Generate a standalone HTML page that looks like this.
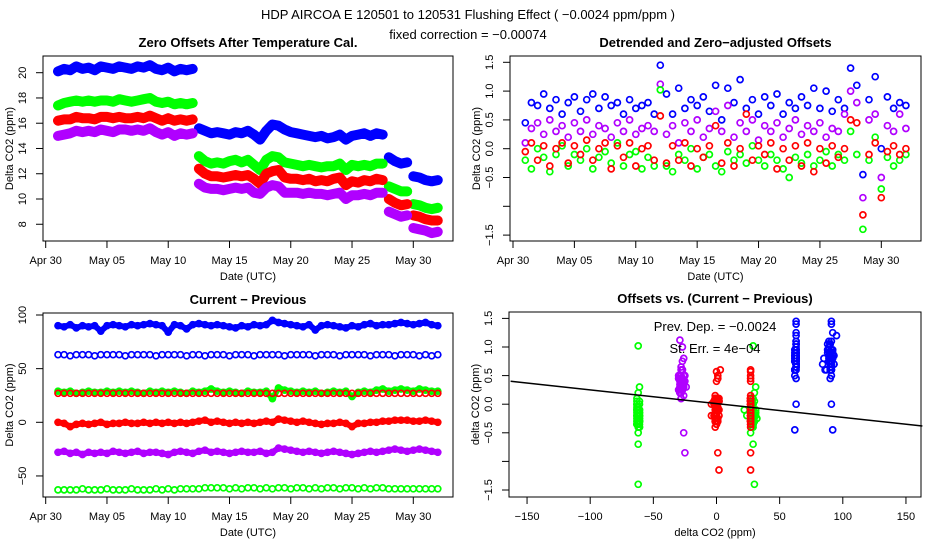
<!DOCTYPE html>
<html><head><meta charset="utf-8"><style>
html,body{margin:0;padding:0;background:#fff;}
svg{display:block;font-family:"Liberation Sans",Arial,sans-serif;}
.t{font-size:13px;fill:#000}
.tt{font-size:13px;font-weight:bold;fill:#000}
.ax{font-size:11px;fill:#000}
</style></head><body>
<svg id="chart" width="936" height="540" viewBox="0 0 936 540">
<rect width="936" height="540" fill="#fff"/>
<text class="t" x="468" y="19" text-anchor="middle">HDP   AIRCOA E   120501 to 120531   Flushing Effect ( −0.0024 ppm/ppm )</text>
<text class="t" x="468" y="39" text-anchor="middle">fixed correction = −0.00074</text>
</svg>
<script>
// time (days after Apr 30)
const times=[1,1.5,2,2.5,3,3.5,4,4.5,5,5.5,6,6.5,7,7.5,8,8.5,9,9.5,10,10.5,11,11.5,12,12.5,13,13.5,14,14.5,15,15.5,16,16.5,17,17.5,18,18.5,19,19.5,20,20.5,21,21.5,22,22.5,23,23.5,24,24.5,25,25.5,26,26.5,27,27.5,28,28.5,29,29.5,30,30.5,31,31.5,32];
const dateTickLabels=["Apr 30","May 05","May 10","May 15","May 20","May 25","May 30"];
const dateTickDays=[0,5,10,15,20,25,30];
// Panel 1: zero offsets
const zoBlue=[20.1,20.3,20.2,20.5,20.3,20.4,20.2,20.5,20.4,20.3,20.5,20.4,20.3,20.5,20.4,20.6,20.3,20.2,20.4,20.1,20.3,20.2,20.3,
15.6,15.4,15.2,15.3,15.2,15.1,15.3,15.2,15.4,15.1,14.7,15.4,15.9,15.8,15.5,15.3,15.2,15.1,15.0,14.9,15.0,14.8,14.9,15.1,14.7,15.0,15.1,15.2,15.0,15.2,15.1,
13.3,13.0,12.8,12.9,11.8,11.7,11.5,11.4,11.5];
const zoGreen=[17.4,17.6,17.7,17.8,17.7,17.8,17.7,17.8,17.8,17.7,17.9,17.8,17.7,17.8,17.9,18.0,17.7,17.6,17.7,17.5,17.6,17.5,17.6,
13.4,13.0,12.8,12.9,12.8,13.0,13.1,12.9,13.1,12.7,12.3,13.1,13.4,13.3,12.9,12.8,12.7,12.6,12.7,12.6,12.5,12.6,12.6,12.8,12.3,12.7,12.6,12.7,12.6,12.8,12.8,
11.0,10.8,10.6,10.6,9.6,9.5,9.3,9.2,9.3];
const zoRed=[16.2,16.3,16.3,16.5,16.4,16.4,16.3,16.5,16.5,16.4,16.5,16.4,16.4,16.5,16.4,16.6,16.4,16.2,16.4,16.2,16.3,16.2,16.3,
12.4,12.0,11.8,11.8,11.7,11.8,11.9,11.8,11.9,11.6,11.2,12.0,12.2,12.3,11.7,11.6,11.6,11.5,11.6,11.4,11.5,11.4,11.6,11.7,11.1,11.4,11.3,11.5,11.4,11.6,11.5,
10.0,9.7,9.5,9.6,8.7,8.6,8.4,8.3,8.3];
const zoPurple=[15.0,15.1,15.2,15.4,15.3,15.4,15.3,15.5,15.4,15.3,15.5,15.5,15.4,15.5,15.4,15.6,15.3,15.1,15.3,15.0,15.2,15.1,15.2,
11.2,10.9,10.8,10.8,10.7,10.8,10.9,10.8,10.9,10.5,10.4,10.9,11.1,11.0,10.5,10.5,10.5,10.4,10.5,10.4,10.4,10.3,10.4,10.5,10.0,10.3,10.3,10.4,10.3,10.5,10.5,
9.0,8.8,8.6,8.7,7.7,7.6,7.5,7.3,7.4];
const zoTicks=[8,10,12,14,16,18,20];
// Panel 2: detrended offsets
const dtBlue=[0.45,0.8,0.75,0.95,0.7,0.85,0.6,0.8,0.9,0.65,0.85,0.95,0.7,0.9,0.75,0.8,0.6,0.85,0.7,0.75,0.8,0.6,1.45,
0.95,0.6,1.05,0.7,0.85,0.75,0.9,0.65,1.1,0.5,1.05,0.8,1.2,0.7,0.85,0.6,0.9,0.75,0.95,0.6,0.8,0.7,0.9,0.75,1.05,0.7,1.0,0.65,0.85,0.7,1.4,
1.1,-0.45,0.85,1.25,0.0,0.9,0.7,0.8,0.75];
const dtPurple=[0.1,0.35,0.45,0.25,0.5,0.3,0.4,0.2,0.45,0.3,0.5,0.25,0.4,0.35,0.2,0.45,0.3,0.5,0.25,0.35,0.4,0.3,1.12,
0.25,0.4,0.1,0.45,0.3,0.5,0.2,0.35,0.65,0.3,0.75,0.2,0.45,0.3,0.5,0.15,0.4,0.3,0.45,0.2,0.35,0.5,0.25,0.4,0.3,0.45,0.2,0.35,0.3,0.6,1.0,
0.8,-0.85,0.5,0.6,-0.5,0.4,0.3,0.6,0.35];
const dtRed=[-0.05,0.1,-0.2,0.05,-0.3,0.0,0.1,-0.25,0.05,-0.1,0.15,-0.2,0.0,0.1,-0.35,0.05,-0.15,0.1,-0.3,0.0,0.05,-0.2,0.57,
-0.25,0.05,-0.2,0.1,-0.3,0.0,-0.15,0.05,0.4,-0.25,0.1,-0.3,0.0,0.6,-0.2,0.05,-0.1,0.1,-0.35,0.0,-0.2,0.05,-0.3,0.1,-0.4,0.0,-0.25,0.05,-0.15,0.0,0.5,
0.45,-1.15,-0.1,0.1,-0.85,-0.05,0.05,-0.1,0.0];
const dtGreen=[-0.2,-0.35,0.0,-0.15,-0.4,-0.1,0.05,-0.3,-0.1,-0.2,0.0,-0.35,-0.15,-0.05,-0.25,0.1,-0.3,-0.1,-0.05,-0.35,-0.15,-0.3,1.02,
-0.3,-0.4,-0.1,-0.2,0.0,-0.35,-0.15,-0.1,-0.3,-0.4,-0.05,-0.2,-0.1,-0.25,0.05,-0.2,-0.3,-0.1,-0.2,-0.35,-0.5,-0.15,-0.25,-0.1,-0.3,-0.2,-0.05,-0.3,-0.1,-0.2,0.3,
-0.1,-1.4,-0.2,0.2,-0.7,-0.15,-0.3,-0.2,-0.1];
const dtTicks=[-1.5,-1.0,-0.5,0.0,0.5,1.0,1.5];
const dtTickLabels=["-1.5","","-0.5","0.0","0.5","1.0","1.5"];
// Panel 3: current - previous
const cpBlue90=[90,89,91,88,90,89,90,85,90,91,90,89,91,90,91,92,91,90,84,91,90,87,91,
92,91,90,91,90,89,88,90,89,91,90,91,95,93,92,91,90,89,91,86,90,91,90,89,88,90,89,91,92,90,91,
91,92,93,92,91,92,93,91,90];
const cpBlue63=[63,63,62,63,63,63,62,63,63,63,63,62,63,63,63,63,62,63,63,63,63,62,63,
63,62,63,63,63,62,63,63,63,62,63,63,63,63,62,63,63,63,63,62,63,63,63,62,63,63,63,63,62,63,63,
63,62,63,63,63,62,63,62,63];
const cpGreen28=[29,28,29,27,28,29,28,28,29,28,29,28,29,28,27,29,28,29,28,29,28,27,29,
28,29,31,29,28,29,28,27,29,28,28,29,22,32,30,29,28,29,28,29,27,28,29,28,29,24,28,29,28,30,31,
29,30,31,30,29,31,30,29,29];
const cpRed28=[27,27,27,27,27,27,27,27,27,27,27,27,27,27,27,27,27,27,27,27,27,27,27,
27,27,27,27,27,27,27,27,27,27,27,27,27,27,27,27,27,27,27,27,27,27,27,27,27,27,27,27,27,27,27,
27,27,27,27,27,27,27,27,27];
const cpRed0=[0,-1,-4,-2,-1,-2,-1,0,-2,-1,-1,0,-1,-1,0,-1,0,-1,0,-1,0,-1,0,
1,2,0,1,0,-1,0,-1,0,-1,0,1,0,3,2,1,0,1,0,-1,-2,-1,-1,0,-1,-4,-1,-1,0,0,1,
1,2,2,2,1,1,2,1,0];
const cpPurple=[-28,-27,-29,-28,-30,-28,-29,-28,-29,-27,-28,-29,-28,-27,-29,-28,-28,-29,-30,-28,-27,-28,-29,
-27,-26,-28,-27,-28,-29,-28,-27,-28,-28,-27,-29,-28,-24,-25,-26,-27,-28,-27,-28,-29,-28,-27,-28,-29,-30,-29,-28,-27,-28,-27,
-26,-25,-26,-27,-26,-25,-26,-27,-28];
const cpGreen62=[-63,-63,-63,-63,-62,-63,-63,-63,-62,-63,-63,-63,-62,-63,-63,-63,-62,-63,-62,-63,-62,-62,-62,
-62,-61,-61,-61,-61,-62,-61,-62,-61,-61,-62,-61,-62,-61,-61,-62,-61,-61,-62,-61,-62,-61,-61,-62,-61,-61,-62,-61,-62,-61,-61,
-62,-62,-62,-62,-62,-62,-62,-62,-62];
const cpTicks=[-50,0,50,100];
// Panel 4
const p4Ticks=[-150,-100,-50,0,50,100,150];
const fitSlope=-0.0024, fitIntercept=0.01;

const svg=document.getElementById('chart');
const NS='http://www.w3.org/2000/svg';
function mk(tag,attrs,parent){const e=document.createElementNS(NS,tag);for(const k in attrs)e.setAttribute(k,attrs[k]);(parent||svg).appendChild(e);return e;}
function txt(s,attrs,parent){const e=mk('text',attrs,parent);e.textContent=s;return e;}

function panel(P){
  const g=mk('g',{});
  
  
  const b=mk('rect',{x:P.L,y:P.T,width:P.R-P.L,height:P.B-P.T,fill:'none',stroke:'#000','stroke-width':1},g);
  
  
  const tl=txt(P.title,{class:'tt',x:(P.L+P.R)/2,y:P.T-9,'text-anchor':'middle'},g);
  
  
  const xs=P.xt.map(P.fx);
  const xa=mk('line',{x1:xs[0],x2:xs[xs.length-1],y1:P.B,y2:P.B,stroke:'#000'},g);
  
  
  P.xt.forEach((v,i)=>{
    const x=P.fx(v);
    mk('line',{x1:x,x2:x,y1:P.B,y2:P.B+7,stroke:'#000'},g);
    const l=txt(P.xl[i],{class:'ax',x:x,y:P.B+23,'text-anchor':'middle'},g);
    
    
  });
  const xt=txt(P.xtitle,{class:'ax',x:(P.L+P.R)/2,y:P.B+39,'text-anchor':'middle'},g);
  
  
  const ys=P.yt.map(P.fy);
  const ya=mk('line',{x1:P.L,x2:P.L,y1:ys[0],y2:ys[ys.length-1],stroke:'#000'},g);
  
  
  P.yt.forEach((v,i)=>{
    const y=P.fy(v);
    mk('line',{x1:P.L-7,x2:P.L,y1:y,y2:y,stroke:'#000'},g);
    const lx=P.L-17;
    const l=txt(P.yl[i],{class:'ax',x:lx,y:y,'text-anchor':'middle',transform:`rotate(-90 ${lx} ${y})`},g);
    
    
  });
  const yx=P.L-30, yc=(P.T+P.B)/2;
  const yt=txt(P.ytitle,{class:'ax',x:yx,y:yc,'text-anchor':'middle',transform:`rotate(-90 ${yx} ${yc})`},g);
  
  
  return g;
}
function band(g,name,xs,ys,P,color,w,jump){
  let segs=[],cur=[];
  ys.forEach((v,i)=>{
    if(i>0 && Math.abs(v-ys[i-1])>jump){segs.push(cur);cur=[];}
    cur.push(P.fx(xs[i]).toFixed(1)+','+P.fy(v).toFixed(1));
  });
  segs.push(cur);
  segs.forEach(s=>{
    if(s.length<2)return;
    const pl=mk('polyline',{points:s.join(' '),fill:'none',stroke:color,'stroke-width':w,'stroke-linejoin':'round','stroke-linecap':'round'},g);
    
    
  });
}
function series(g,name,xs,ys,P,color){
  const sg=mk('g',{fill:'none',stroke:color,'stroke-width':1.7},g);
  
  
  ys.forEach((v,i)=>{
    const c=mk('circle',{cx:P.fx(xs[i]).toFixed(1),cy:P.fy(v).toFixed(1),r:3},sg);
    
    
  });
}
const BLUE='#0000ff',GREEN='#00ff00',RED='#ff0000',PURP='#b000ff';
const dayL=(d)=>45.7+d*12.253, dayR=(d)=>513+d*12.277;

// Panel 1
const P1={name:'zero-offsets-panel',L:43,R:453,T:56,B:241,title:'Zero Offsets After Temperature Cal.',
 fx:dayL,fy:(v)=>72.7+(20-v)*12.63,xt:dateTickDays,xl:dateTickLabels,yt:zoTicks,yl:zoTicks.map(String),xtitle:'Date (UTC)',ytitle:'Delta CO2 (ppm)'};
const g1=panel(P1);
[[zoBlue,BLUE,'series-blue'],[zoGreen,GREEN,'series-green'],[zoRed,RED,'series-red'],[zoPurple,PURP,'series-purple']].forEach(s=>{
  band(g1,s[2],times,s[0],P1,s[1],10,0.9);
  series(g1,s[2],times,s[0],P1,s[1]);
});

// Panel 2
const P2={name:'detrended-offsets-panel',L:510,R:921,T:56,B:241,title:'Detrended and Zero−adjusted Offsets',
 fx:dayR,fy:(v)=>148.7-v*57.6,xt:dateTickDays,xl:dateTickLabels,yt:dtTicks,yl:dtTickLabels.map(s=>s.replace('-','−')),xtitle:'Date (UTC)',ytitle:'Delta CO2 (ppm)'};
const g2=panel(P2);
series(g2,'series-blue',times,dtBlue,P2,BLUE);
series(g2,'series-purple',times,dtPurple,P2,PURP);
series(g2,'series-green',times,dtGreen,P2,GREEN);
series(g2,'series-red',times,dtRed,P2,RED);

// Panel 3
const P3={name:'current-minus-previous-panel',L:43,R:453,T:313,B:497,title:'Current − Previous',
 fx:dayL,fy:(v)=>422.3-v*1.073,xt:dateTickDays,xl:dateTickLabels,yt:cpTicks,yl:cpTicks.map(v=>String(v).replace('-','−')),xtitle:'Date (UTC)',ytitle:'Delta CO2 (ppm)'};
const g3=panel(P3);
band(g3,'series-blue-90',times,cpBlue90,P3,BLUE,6,100);
series(g3,'series-blue-90',times,cpBlue90,P3,BLUE);
series(g3,'series-blue-63',times,cpBlue63,P3,BLUE);
band(g3,'series-green-28',times,cpGreen28,P3,GREEN,6,100);
series(g3,'series-green-28',times,cpGreen28,P3,GREEN);
series(g3,'series-red-28',times,cpRed28,P3,RED);
band(g3,'series-red-0',times,cpRed0,P3,RED,6,100);
series(g3,'series-red-0',times,cpRed0,P3,RED);
band(g3,'series-purple-neg28',times,cpPurple,P3,PURP,6,100);
series(g3,'series-purple-neg28',times,cpPurple,P3,PURP);
series(g3,'series-green-neg62',times,cpGreen62,P3,GREEN);

// Panel 4
const P4={name:'offsets-vs-difference-panel',L:509,R:921,T:312,B:497,title:'Offsets vs. (Current − Previous)',
 fx:(v)=>716.5+v*1.263,fy:(v)=>404.2-v*57.2,xt:p4Ticks,xl:p4Ticks.map(v=>String(v).replace('-','−')),yt:dtTicks,yl:dtTickLabels.map(s=>s.replace('-','−')),xtitle:'delta CO2 (ppm)',ytitle:'delta CO2 (ppm)'};
const g4=panel(P4);
series(g4,'scatter-green-neg62',cpGreen62,dtGreen,P4,GREEN);
series(g4,'scatter-blue-63',cpBlue63,dtBlue,P4,BLUE);
series(g4,'scatter-blue-90',cpBlue90,dtBlue,P4,BLUE);
series(g4,'scatter-purple',cpPurple,dtPurple,P4,PURP);
series(g4,'scatter-red-0',cpRed0,dtRed,P4,RED);
series(g4,'scatter-green-28',cpGreen28,dtGreen,P4,GREEN);
series(g4,'scatter-red-28',cpRed28,dtRed,P4,RED);
const fx0=-163,fx1=163;
const fl=mk('line',{x1:P4.fx(fx0),y1:P4.fy(fitIntercept+fitSlope*fx0),x2:P4.fx(fx1),y2:P4.fy(fitIntercept+fitSlope*fx1),stroke:'#000','stroke-width':1.5},g4);


const a1=txt('Prev. Dep. =  −0.0024',{class:'t',x:715,y:331,'text-anchor':'middle'},g4);


const a2=txt('St. Err. =  4e−04',{class:'t',x:715,y:353,'text-anchor':'middle'},g4);


</script>
</body></html>
